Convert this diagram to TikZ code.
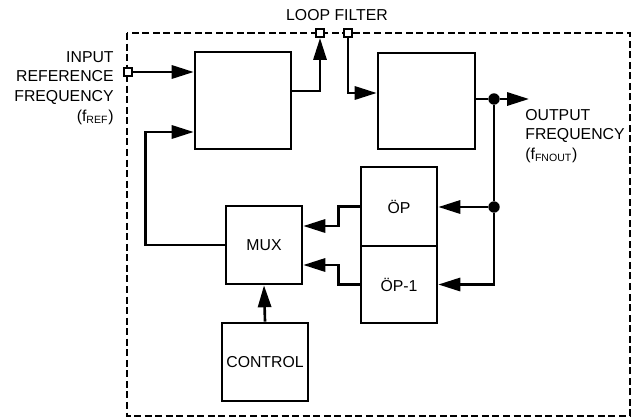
\documentclass[tikz,border=0pt]{standalone}
\usepackage{fontspec}
\setmainfont{Liberation Sans}
\usetikzlibrary{arrows.meta}

\begin{document}
\begin{tikzpicture}[
    x=0.02cm, y=-0.02cm,
    box/.style={rectangle, draw=black, line width=1.5pt, align=center, inner sep=1pt, font=\fontsize{9}{11}\selectfont},
    port/.style={rectangle, draw=black, fill=white, line width=1.1pt, inner sep=0pt, minimum size=4.6pt},
    junction/.style={circle, fill=black, inner sep=0pt, minimum size=6.5pt},
    wire/.style={line width=1.5pt},
    arrow/.style={-{Triangle[length=12.5pt, width=7.5pt]}, line width=1.5pt},
    lbl/.style={font=\fontsize{9}{11.3}\selectfont, inner sep=0pt}
]
\useasboundingbox (0,0) rectangle (641,419);

% Chip boundary (dashed)
\draw[line width=1.4pt, dash pattern=on 4pt off 2pt] (127,33) rectangle (630,416);

% Blocks
\node[box, minimum width=1.92cm, minimum height=1.94cm] (pfd)  at (243,100.5) {};
\node[box, minimum width=1.94cm, minimum height=1.92cm] (vco)  at (426.5,101) {};
\node[box, minimum width=1.52cm, minimum height=1.58cm] (op)   at (399,206.5) {ÖP};
\node[box, minimum width=1.52cm, minimum height=1.54cm] (op1)  at (399,284.5) {ÖP-1};
\node[box, minimum width=1.52cm, minimum height=1.56cm] (mux)  at (264,245) {MUX};
\node[box, minimum width=1.72cm, minimum height=1.56cm] (ctrl) at (265,362) {CONTROL};

% Pins and junctions
\node[port] (inpin) at (128,72) {};
\node[port] (lfa)   at (320,33) {};
\node[port] (lfb)   at (348,33) {};
\node[junction] (outdot) at (494,99) {};
\node[junction] (fbdot)  at (494,207) {};
\coordinate (fout) at (529,99);

% Labels
\node[lbl, align=right, anchor=east] (finlbl) at (114,88) {INPUT\\REFERENCE\\FREQUENCY\\(f\textsubscript{REF})};
\node[lbl] (lflbl) at (337,15) {LOOP FILTER};
\node[lbl, align=left, anchor=west] (foutlbl) at (525,136) {OUTPUT\\FREQUENCY\\(f\textsubscript{FNOUT})};

% Forward path
\draw[arrow] (inpin) -- (inpin -| pfd.west);
\draw[arrow] ([yshift=0.19cm]pfd.east) -| (lfa.south);
\draw[arrow] (lfb.south) |- ([yshift=0.16cm]vco.west);
\draw[wire] (vco.east |- outdot) -- (outdot);
\draw[arrow] (outdot) -- (fout);

% Feedback dividers
\draw[wire] (outdot) -- (fbdot);
\draw[arrow] (fbdot) -- (fbdot -| op.east);
\draw[arrow] (fbdot) |- (op1.east);
\draw[arrow] (op.west) -- ++(-21,0) |- ([yshift=0.38cm]mux.east);
\draw[arrow] (op1.west) -- ++(-21,0) |- ([yshift=-0.4cm]mux.east);
\draw[arrow] (ctrl.north) -- (mux.south);
\draw[arrow] (mux.west) -- ++(-79,0) |- ([yshift=-0.63cm]pfd.west);

\end{tikzpicture}
\end{document}
